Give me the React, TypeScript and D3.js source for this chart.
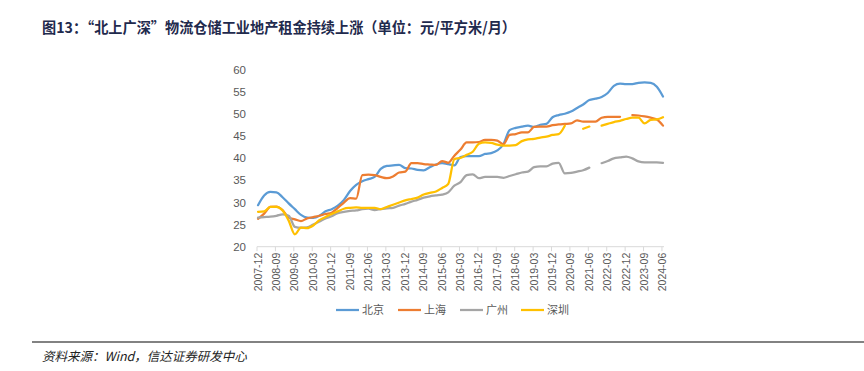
import React from 'react'
import * as d3 from 'd3'

// 季度数据，2007-12 起，每 3 个月一个点（null = 缺失）
const beijing = [
  29.4, 31.6, 32.4, 32.3, 31.2, 29.8, 28.5, 27.2, 26.6, 26.5,
  27.0, 28.0, 28.5, 29.3, 30.6, 32.6, 34.0, 34.8, 35.3, 35.8,
  37.6, 38.3, 38.4, 38.5, 37.8, 37.7, 37.4, 37.3, 38.0, 38.6,
  38.9, 38.7, 38.4, 40.3, 40.5, 40.5, 40.5, 41.0, 41.2, 41.8,
  43.2, 46.4, 46.9, 47.2, 47.4, 47.1, 47.6, 47.8, 49.3, 49.8,
  50.1, 50.6, 51.4, 52.2, 53.2, 53.5, 53.9, 54.8, 56.4, 56.9,
  56.8, 56.8, 57.1, 57.2, 57.1, 56.2, 54.0,
]
const shanghai = [
  26.3, 27.5, 29.0, 29.1, 28.3, 26.6, 26.2, 25.8, 26.4, 26.7,
  27.0, 27.4, 27.7, 28.8, 30.0, 31.0, 30.9, 36.2, 36.3, 36.2,
  35.8, 35.5, 35.9, 36.8, 37.0, 38.9, 38.9, 38.7, 38.6, 38.5,
  39.4, 39.0, 40.6, 42.0, 43.6, 43.6, 43.7, 44.2, 44.2, 44.0,
  43.2, 45.3, 45.5, 45.9, 45.9, 47.1, 47.2, 47.2, 47.5, 47.7,
  47.8, 47.9, 48.6, 48.3, 48.3, 48.3, 49.2, 49.4, 49.4, 49.4,
  null, 49.8, 49.7, 49.5, 49.2, 48.8, 47.4,
]
const guangzhou = [
  26.6, 26.7, 26.8, 27.0, 27.3, 27.0, 24.5, 24.3, 24.4, 25.0,
  25.7, 26.4, 26.9, 27.6, 27.9, 28.1, 28.2, 28.5, 28.6, 28.3,
  28.5, 28.7, 28.8, 29.3, 29.7, 30.2, 30.6, 31.1, 31.4, 31.6,
  31.8, 32.3, 33.8, 34.6, 36.2, 36.4, 35.5, 35.8, 35.8, 35.8,
  35.6, 36.0, 36.4, 36.8, 37.0, 38.0, 38.2, 38.2, 38.8, 39.0,
  36.6, 36.7, 37.0, 37.3, 37.9, null, 38.9, 39.4, 40.0, 40.2,
  40.4, 40.0, 39.3, 39.1, 39.1, 39.1, 39.0,
]
const shenzhen = [
  27.9, 28.0, 29.0, 29.0, 28.2, 25.9, 22.8, 24.3, 24.2, 24.8,
  26.0, 26.7, 27.4, 28.0, 28.6, 28.8, 28.9, 28.8, 28.8, 28.8,
  28.5, 29.0, 29.5, 30.0, 30.5, 30.8, 31.1, 31.8, 32.2, 32.5,
  33.3, 34.2, 39.8, 40.1, 40.8, 41.5, 43.3, 43.6, 43.5, 43.1,
  42.9, 42.9, 43.0, 43.9, 44.3, 44.4, 44.7, 44.9, 45.3, 45.5,
  47.4, null, null, 46.7, 47.2, null, 47.4, 47.8, 48.2, 48.5,
  48.9, 49.2, 49.2, 47.9, 48.7, 48.8, 49.3,
]

const seriesNames = ['北京', '上海', '广州', '深圳']
const seriesColors = ['#5B9BD5', '#ED7D31', '#A5A5A5', '#FFC000']
const yTicks = [20, 25, 30, 35, 40, 45, 50, 55, 60]

const fmt = d3.timeFormat('%Y-%m')
const months = d3.timeMonth.range(new Date(2007, 11, 1), new Date(2024, 6, 1)).map(fmt)
const quarters = months.filter((_, i) => i % 3 === 0)
const tickLabels = months.filter((_, i) => i % 9 === 0)

const font = '"Liberation Sans", "Noto Sans CJK SC", sans-serif'
const cjk = '"Noto Sans CJK SC", sans-serif'

export default function App() {
  const width = 864, height = 371
  const x = d3.scaleBand<string>().domain(months).range([257, 664]).padding(0)
  const bw = x.bandwidth()
  const y = d3.scaleLinear().domain([20, 60]).range([246.7, 70])

  const line = d3.line<number | null>()
    .defined(d => d != null)
    .x((_, i) => (x(quarters[i]) as number) + bw / 2)
    .y(d => y(d as number))
    .curve(d3.curveMonotoneX)

  const all = [beijing, shanghai, guangzhou, shenzhen]
  const legendX = [336, 398, 460, 521]

  return (
    <div style={{ position: 'absolute', left: 0, top: 0 }}>
      <svg width={width} height={height} style={{ display: 'block', background: '#fff' }}>
        <text x={42} y={33} fontFamily={cjk} fontWeight={700} fontSize={14.6} fill="#1f2a4d"
          textLength={474} lengthAdjust="spacingAndGlyphs">
          图13：“北上广深”物流仓储工业地产租金持续上涨（单位：元/平方米/月）
        </text>

        {yTicks.map(t => (
          <text key={t} x={246} y={y(t)} dy="0.35em" textAnchor="end" fontFamily={font} fontSize={11.5} fill="#595959">{t}</text>
        ))}

        <line x1={257} x2={664} y1={y(20)} y2={y(20)} stroke="#d9d9d9" strokeWidth={1} />
        {d3.range(0, months.length + 1, 9).map(i => {
          const px = i < months.length ? (x(months[i]) as number) : 664
          return <line key={i} x1={px} x2={px} y1={y(20)} y2={y(20) + 4.5} stroke="#d9d9d9" />
        })}
        {tickLabels.map(l => {
          const cx = (x(l) as number) + bw / 2
          return (
            <text key={l} transform={`translate(${cx + 3.5},${y(20) + 6}) rotate(-90)`} textAnchor="end"
              fontFamily={font} fontSize={10.5} fill="#595959">{l}</text>
          )
        })}

        {all.map((s, k) => (
          <path key={k} d={line(s) || ''} fill="none" stroke={seriesColors[k]} strokeWidth={2.25} strokeLinejoin="round" strokeLinecap="round" />
        ))}

        {seriesNames.map((n, k) => (
          <g key={n} transform={`translate(${legendX[k]},310)`}>
            <line x1={0} x2={23} y1={0} y2={0} stroke={seriesColors[k]} strokeWidth={2.25} />
            <text x={26} y={0} dy="0.36em" fontFamily={cjk} fontSize={11} fill="#595959">{n}</text>
          </g>
        ))}

        <line x1={32} x2={864} y1={342} y2={342} stroke="#595959" strokeWidth={1.5} />
        <text x={42} y={361} fontFamily={cjk} fontStyle="italic" fontSize={12.5} fill="#222">
          资料来源：Wind，信达证券研发中心
        </text>
      </svg>
    </div>
  )
}
